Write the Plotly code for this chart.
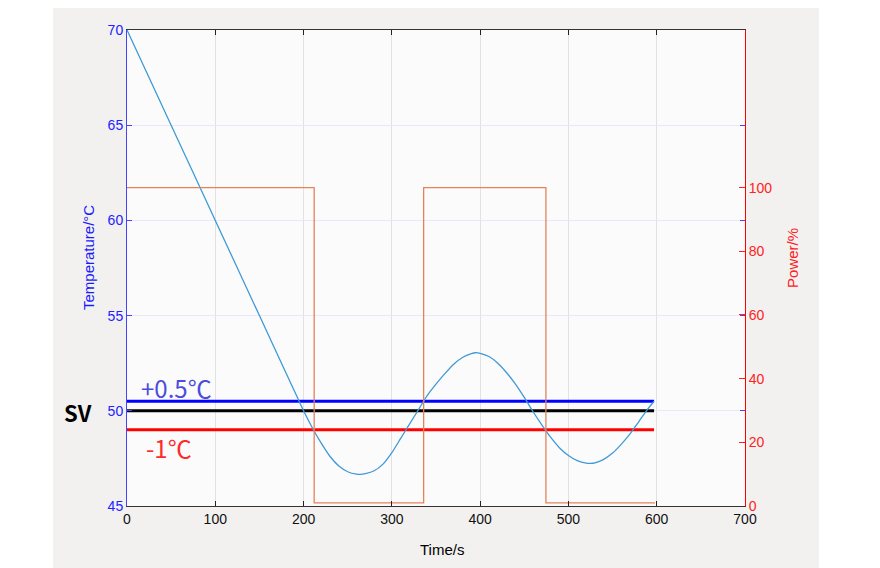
import plotly.graph_objects as go

# ---- data ----
time_s = [0, 50, 100, 150, 180, 190, 200, 210, 220, 230, 240, 250, 260, 264, 270, 280, 290,
          300, 310, 320, 330, 340, 350, 360, 370, 380, 390, 395, 400, 410, 420, 430, 440,
          450, 460, 470, 480, 490, 500, 510, 520, 525, 530, 540, 550, 560, 570, 580, 590, 597]
temperature_c = [70, 65, 60, 55, 52.0, 51.0, 50.0, 49.1, 48.3, 47.6, 47.1, 46.8, 46.67, 46.66,
                 46.7, 46.85, 47.2, 47.8, 48.55, 49.3, 50.05, 50.8, 51.4, 51.95, 52.45, 52.8,
                 53.0, 53.05, 53.02, 52.85, 52.5, 52.0, 51.4, 50.7, 49.95, 49.25, 48.6, 48.05,
                 47.65, 47.38, 47.25, 47.24, 47.27, 47.45, 47.78, 48.25, 48.8, 49.45, 50.1, 50.5]

power_time_s = [0, 212, 336, 474.5, 598]
power_pct = [100, 1, 100, 1, 1]

band_time_s = [0, 597]
sv_c = 50
upper_c = 50.5
lower_c = 49

x_ticks = [0, 100, 200, 300, 400, 500, 600, 700]
temp_ticks = [45, 50, 55, 60, 65, 70]
power_ticks = [0, 20, 40, 60, 80, 100]

FONT = "Liberation Sans, Arial, sans-serif"
CJK = "Noto Sans CJK SC, sans-serif"

fig = go.Figure()

fig.add_trace(go.Scatter(x=band_time_s, y=[upper_c] * 2, mode="lines",
                         line=dict(color="#0000ff", width=3), showlegend=False))
fig.add_trace(go.Scatter(x=band_time_s, y=[sv_c] * 2, mode="lines",
                         line=dict(color="#000000", width=3), showlegend=False))
fig.add_trace(go.Scatter(x=band_time_s, y=[lower_c] * 2, mode="lines",
                         line=dict(color="#ff0000", width=3), showlegend=False))
fig.add_trace(go.Scatter(x=time_s, y=temperature_c, mode="lines",
                         line=dict(color="#3f9ad6", width=1.3, shape="spline", smoothing=0.6),
                         showlegend=False))
fig.add_trace(go.Scatter(x=power_time_s, y=power_pct, mode="lines", yaxis="y2",
                         line=dict(color="#e5825a", width=1.3, shape="hv"),
                         showlegend=False))

fig.update_layout(
    width=872, height=560,
    margin=dict(l=119, r=135, t=22, b=62),
    paper_bgcolor="#ffffff",
    plot_bgcolor="#fbfbfb",
    font=dict(family=FONT, size=14, color="#000000"),
    xaxis=dict(range=[0, 700], tickvals=x_ticks, ticks="inside", ticklen=5,
               tickcolor="#222222", showline=True, linecolor="#333333", linewidth=1,
               mirror="ticks", showgrid=True, gridcolor="#e2e2e2", gridwidth=1,
               zeroline=False, tickfont=dict(size=14, color="#111111")),
    yaxis=dict(range=[45, 70], tickvals=temp_ticks, ticks="inside", ticklen=5,
               tickcolor="#4444ff", showline=True, linecolor="#4444ff", linewidth=1,
               mirror="ticks", showgrid=True, gridcolor="#e8e8fa", gridwidth=1,
               zeroline=False, tickfont=dict(size=14, color="#2222ff")),
    yaxis2=dict(range=[0, 149.5], tickvals=power_ticks, ticks="inside", ticklen=6,
                tickcolor="#ff2222", showline=True, linecolor="#ff0000", linewidth=1,
                overlaying="y", side="right", showgrid=False, zeroline=False,
                tickfont=dict(size=14, color="#ff2222")),
    shapes=[
        dict(type="rect", xref="paper", yref="paper", x0=-0.1197, x1=1.1197,
             y0=-0.135, y1=1.07, fillcolor="#f2f1f0", line=dict(width=0), layer="below"),
        dict(type="rect", xref="paper", yref="paper", x0=0, x1=1, y0=0, y1=1,
             fillcolor="#fbfbfb", line=dict(width=0), layer="below"),
    ],
    annotations=[
        dict(text="Temperature/°C", xref="paper", yref="paper", x=-0.0631, y=0.521,
             xanchor="center", yanchor="middle",
             textangle=-90, showarrow=False, font=dict(size=15, color="#1a1aff", family=FONT)),
        dict(text="Power/%", xref="paper", yref="paper", x=1.076, y=0.521,
             xanchor="center", yanchor="middle",
             textangle=-90, showarrow=False, font=dict(size=15, color="#ff2020", family=FONT)),
        dict(text="Time/s", xref="paper", yref="paper", x=0.5097, y=-0.092,
             xanchor="center", yanchor="middle",
             showarrow=False, font=dict(size=15, color="#000000", family=FONT)),
        dict(text="+0.5℃", xref="x", yref="y", x=55.5, y=51.25, showarrow=False,
             xanchor="center", yanchor="middle",
             font=dict(size=24, color="#4c4cdc", family=CJK)),
        dict(text="-1℃", xref="x", yref="y", x=47.6, y=48.05, showarrow=False,
             xanchor="center", yanchor="middle",
             font=dict(size=24, color="#ff2a2a", family=CJK)),
        dict(text="<b>SV</b>", xref="paper", yref="paper", x=-0.0785, y=0.197, showarrow=False,
             xanchor="center", yanchor="middle",
             font=dict(size=22, color="#000000", family=CJK)),
    ],
)

fig.write_html("out.html")
